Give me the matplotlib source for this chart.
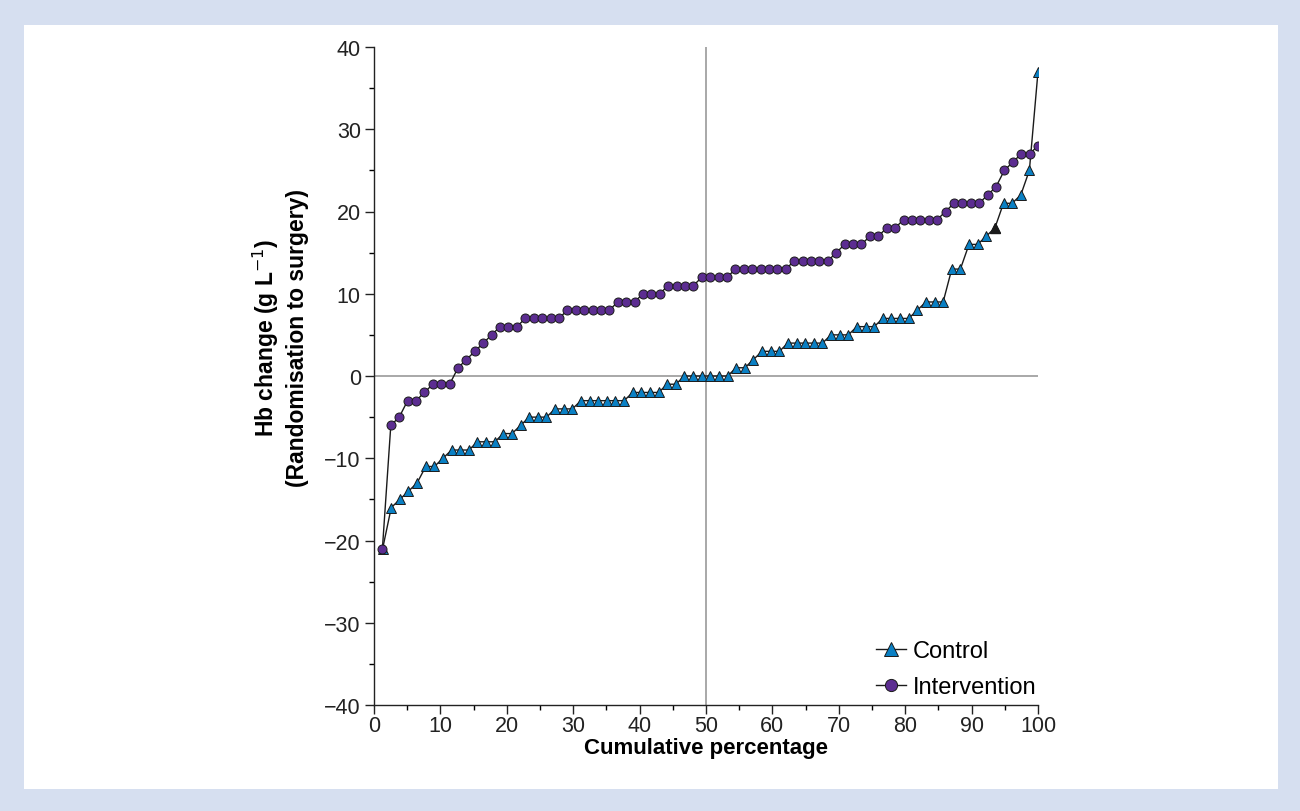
import numpy as np
import matplotlib
matplotlib.use("Agg")
import matplotlib.pyplot as plt
from matplotlib.patches import Rectangle
from matplotlib.ticker import MultipleLocator

plt.rcParams['font.family'] = ['Liberation Sans', 'DejaVu Sans']

# Sorted Hb change values (g/L)
control_values = [-21, -16, -15, -14, -13, -11, -11, -10, -9, -9, -9, -8, -8, -8,
                  -7, -7, -6, -5, -5, -5, -4, -4, -4, -3, -3, -3, -3, -3, -3,
                  -2, -2, -2, -2, -1, -1, 0, 0, 0, 0, 0, 0, 1, 1, 2, 3, 3, 3,
                  4, 4, 4, 4, 4, 5, 5, 5, 6, 6, 6, 7, 7, 7, 7, 8, 9, 9, 9,
                  13, 13, 16, 16, 17, 18, 21, 21, 22, 25, 37]
intervention_values = [-21, -6, -5, -3, -3, -2, -1, -1, -1, 1, 2, 3, 4, 5, 6, 6, 6,
                       7, 7, 7, 7, 7, 8, 8, 8, 8, 8, 8, 9, 9, 9, 10, 10, 10,
                       11, 11, 11, 11, 12, 12, 12, 12, 13, 13, 13, 13, 13, 13, 13,
                       14, 14, 14, 14, 14, 15, 16, 16, 16, 17, 17, 18, 18,
                       19, 19, 19, 19, 19, 20, 21, 21, 21, 21, 22, 23, 25, 26,
                       27, 27, 28]
highlight_index = 71  # control point drawn in black

n_c = len(control_values)
n_i = len(intervention_values)
control_pct = [100.0 * (k + 1) / n_c for k in range(n_c)]
intervention_pct = [100.0 * (k + 1) / n_i for k in range(n_i)]

x_ticks = list(range(0, 101, 10))
y_ticks = list(range(-40, 41, 10))

fig = plt.figure(figsize=(13, 8.12), dpi=100)
fig.patch.set_facecolor('#d6dff0')

bg = fig.add_axes([0, 0, 1, 1], zorder=-5)
bg.set_xlim(0, 1300)
bg.set_ylim(812, 0)
bg.axis('off')
bg.add_patch(Rectangle((24, 26), 1278 - 24, 790 - 26, facecolor='white', edgecolor='none'))

ax = fig.add_axes([374 / 1300, 1 - 706 / 812, (1038 - 374) / 1300, (706 - 48) / 812])
ax.set_facecolor('none')

ax.axhline(0, color='#999999', lw=1.2, zorder=1)
ax.axvline(50, color='#999999', lw=1.2, zorder=1)

ax.plot(control_pct, control_values, color='#1a1a1a', lw=1.0, marker='^',
        markersize=7.5, markerfacecolor='#0a80c4', markeredgecolor='#1a1a1a',
        markeredgewidth=0.7, label='Control', zorder=3)
ax.plot([control_pct[highlight_index]], [control_values[highlight_index]],
        marker='^', markersize=7.5, color='#1a1a1a', linestyle='none', zorder=4)
ax.plot(intervention_pct, intervention_values, color='#1a1a1a', lw=1.0, marker='o',
        markersize=6.5, markerfacecolor='#5c2d91', markeredgecolor='#1a1a1a',
        markeredgewidth=0.7, label='Intervention', zorder=5)

ax.set_xlim(0, 100)
ax.set_ylim(-40, 40)
ax.set_xticks(x_ticks)
ax.set_yticks(y_ticks)
ax.xaxis.set_minor_locator(MultipleLocator(5))
ax.yaxis.set_minor_locator(MultipleLocator(5))
ax.tick_params(which='major', direction='out', length=6.5, width=1, labelsize=15.5,
               colors='#222222', pad=3)
ax.tick_params(axis='x', which='major', pad=0.5)
ax.tick_params(which='minor', direction='out', length=3.5, width=1)

for s in ['top', 'right']:
    ax.spines[s].set_visible(False)
for s in ['left', 'bottom']:
    ax.spines[s].set_linewidth(1.0)
    ax.spines[s].set_color('#222222')

ax.set_xlabel('Cumulative percentage', fontsize=16, fontweight='bold', labelpad=1)
ax.set_ylabel('Hb change (g L$^{\u22121}$)\n(Randomisation to surgery)', fontsize=16.5,
              fontweight='bold', linespacing=1.25)
ax.yaxis.set_label_coords(-0.098, 0.56)

leg = ax.legend(loc='lower right', bbox_to_anchor=(0.998, 0.01), frameon=False,
                fontsize=17, handlelength=1.25, handletextpad=0.3, labelspacing=0.6,
                borderpad=0, borderaxespad=0, markerscale=1.35)

fig.savefig('out.png', dpi=100, facecolor=fig.get_facecolor())
